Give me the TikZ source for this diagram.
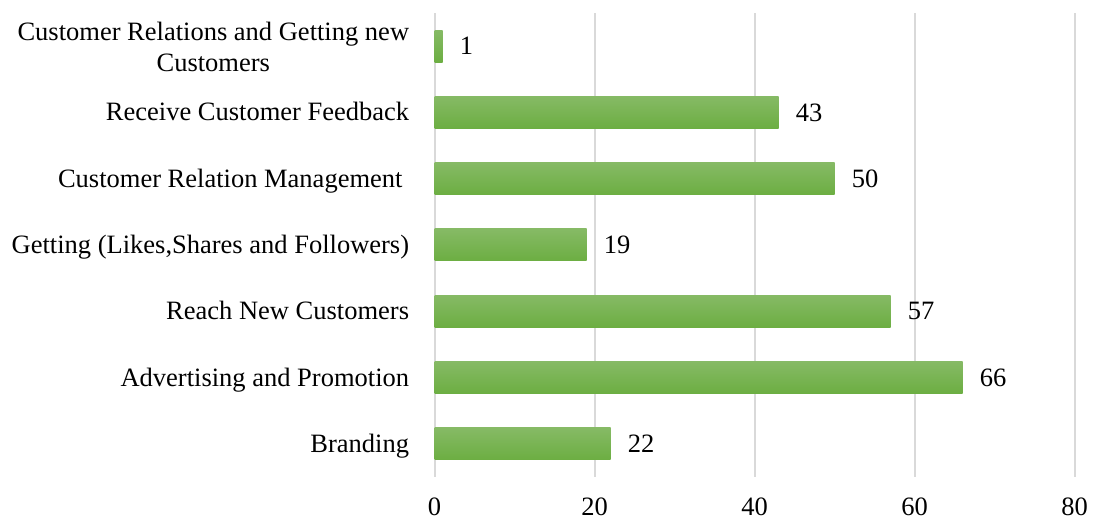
\documentclass[tikz,border=0pt]{standalone}
\usepackage{fontspec}
\setmainfont{Liberation Serif}
\definecolor{barTop}{HTML}{86BA65}
\definecolor{barBot}{HTML}{6CAE42}
\definecolor{gridGray}{HTML}{D9D9D9}
\tikzset{
  bar/.style={top color=barTop, bottom color=barBot, draw=none},
  gridline/.style={draw=gridGray, line width=1bp},
  catlabel/.style={anchor=base east, inner sep=0pt},
  vallabel/.style={anchor=west, inner sep=0pt, xshift=8.5bp},
  ticklabel/.style={inner sep=0pt}
}
\begin{document}
\begin{tikzpicture}[x=0.5bp,y=0.5bp,font=\fontsize{13.25bp}{15.6bp}\selectfont]
  \useasboundingbox (0,0) rectangle (1099,523);

  % grid and axis numbers
  \foreach \v in {0,20,40,60,80} {
    \draw[gridline] (434.5+8*\v,46) -- (434.5+8*\v,510);
    \node[ticklabel] (tick\v) at (434.5+8*\v,16) {\v};
  }

  % bars with their values
  \foreach \i/\y/\v in {0/476.9/1,1/410.6/43,2/344.3/50,3/278.0/19,4/211.7/57,5/145.4/66,6/79.1/22} {
    \shade[bar] (434.5,\y-16) rectangle (434.5+8*\v,\y+16);
    \node[vallabel] (val\i) at (434.5+8*\v,\y) {\v};
  }

  % category names
  \node[anchor=east, inner sep=0pt, align=center] (cat0) at (409.5,476) {Customer Relations and Getting new\\Customers};
  \node[catlabel] (cat1) at (409.5,402.1) {Receive Customer Feedback};
  \node[catlabel] (cat2) at (409.5,335.8) {Customer Relation Management\kern.25em};
  \node[catlabel] (cat3) at (409.5,269.5) {Getting (Likes,Shares and Followers)};
  \node[catlabel] (cat4) at (409.5,203.2) {Reach New Customers};
  \node[catlabel] (cat5) at (409.5,136.9) {Advertising and Promotion};
  \node[catlabel] (cat6) at (409.5,70.6) {Branding};
\end{tikzpicture}
\end{document}
